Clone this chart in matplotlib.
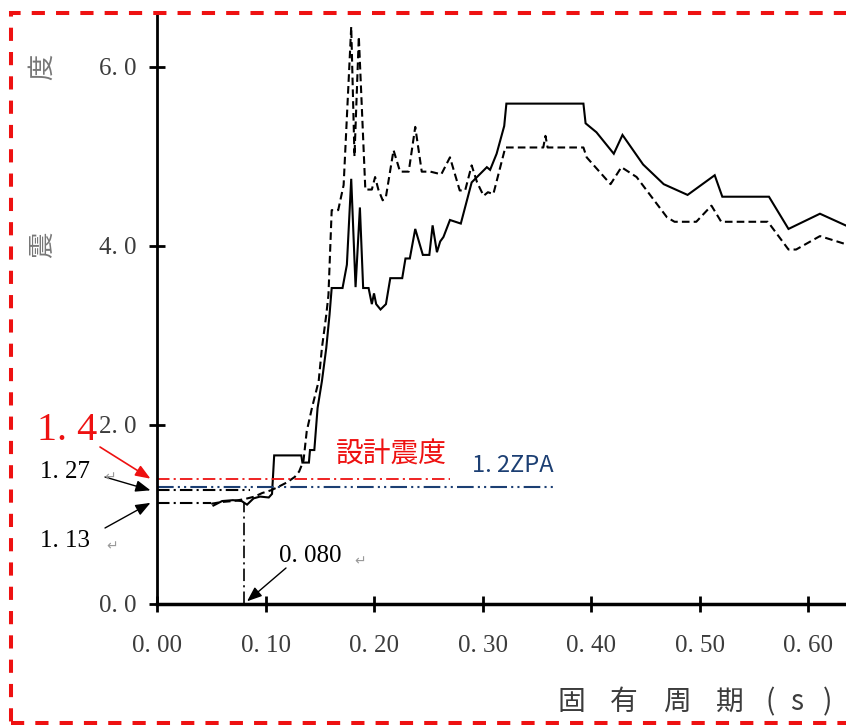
import matplotlib
matplotlib.use("Agg")
import matplotlib.pyplot as plt
from matplotlib.patches import Rectangle

plt.rcParams['lines.scale_dashes'] = False

W, H = 846, 725

# response spectrum, solid curve
period_solid = [0.052, 0.060, 0.070, 0.078, 0.083, 0.089, 0.095, 0.103, 0.106, 0.108,
                0.133, 0.134, 0.140, 0.141, 0.145, 0.148, 0.152, 0.156, 0.159, 0.161,
                0.171, 0.175, 0.179, 0.183, 0.187, 0.190, 0.195, 0.198, 0.200, 0.202,
                0.206, 0.211, 0.215, 0.226, 0.229, 0.233, 0.238, 0.245, 0.251, 0.254,
                0.258, 0.261, 0.264, 0.270, 0.280, 0.290, 0.304, 0.307, 0.313, 0.320,
                0.322, 0.393, 0.395, 0.405, 0.421, 0.429, 0.448, 0.467, 0.489, 0.514,
                0.521, 0.564, 0.582, 0.611, 0.640]
accel_solid = [1.10, 1.15, 1.16, 1.15, 1.11, 1.18, 1.20, 1.19, 1.23, 1.66,
               1.66, 1.58, 1.58, 1.72, 1.72, 2.19, 2.49, 2.86, 3.23, 3.53,
               3.53, 3.79, 4.75, 3.54, 4.43, 3.53, 3.53, 3.35, 3.47, 3.35,
               3.29, 3.35, 3.64, 3.64, 3.86, 3.86, 4.19, 3.90, 3.90, 4.23,
               3.93, 4.05, 4.10, 4.29, 4.25, 4.71, 4.88, 4.85, 5.03, 5.34,
               5.59, 5.59, 5.37, 5.27, 5.03, 5.24, 4.91, 4.69, 4.57, 4.79,
               4.55, 4.55, 4.19, 4.36, 4.20]

# response spectrum, dashed curve
period_dashed = [0.050, 0.060, 0.070, 0.080, 0.090, 0.097, 0.105, 0.112, 0.120, 0.127,
                 0.131, 0.135, 0.138, 0.143, 0.149, 0.152, 0.156, 0.158, 0.161, 0.167,
                 0.172, 0.179, 0.182, 0.186, 0.192, 0.198, 0.201, 0.204, 0.208, 0.211,
                 0.218, 0.224, 0.232, 0.238, 0.244, 0.252, 0.262, 0.270, 0.279, 0.284,
                 0.290, 0.295, 0.301, 0.305, 0.310, 0.321, 0.356, 0.358, 0.360, 0.393,
                 0.396, 0.418, 0.428, 0.442, 0.470, 0.477, 0.497, 0.511, 0.520, 0.563,
                 0.582, 0.589, 0.611, 0.640]
accel_dashed = [1.12, 1.14, 1.15, 1.17, 1.20, 1.24, 1.27, 1.31, 1.36, 1.42,
                1.48, 1.60, 1.93, 2.20, 2.49, 2.86, 3.23, 3.45, 4.40, 4.40,
                4.68, 6.45, 5.00, 6.34, 4.63, 4.63, 4.77, 4.63, 4.51, 4.55,
                5.07, 4.83, 4.83, 5.33, 4.83, 4.83, 4.80, 4.99, 4.62, 4.62,
                4.90, 4.71, 4.56, 4.60, 4.58, 5.10, 5.10, 5.23, 5.10, 5.10,
                4.99, 4.69, 4.88, 4.77, 4.32, 4.27, 4.27, 4.45, 4.27, 4.27,
                3.96, 3.96, 4.11, 4.00]

# reference levels
design_level = 1.4
zpa_level = 1.31
upper_level = 1.27
lower_level = 1.13
cross_period = 0.080

x_ticks = [0.0, 0.1, 0.2, 0.3, 0.4, 0.5, 0.6]
x_tick_labels = ["0. 00", "0. 10", "0. 20", "0. 30", "0. 40", "0. 50", "0. 60"]
y_ticks = [0.0, 2.0, 4.0, 6.0]
y_tick_labels = ["0. 0", "2. 0", "4. 0", "6. 0"]
x_label_chars = ["固", "有", "周", "期", "(", "s", ")"]

SERIF = ["Liberation Serif", "DejaVu Serif"]
CJK = ["Noto Sans CJK JP", "DejaVu Sans"]
GREY = "#3c3c3c"
RED = "#ee1111"
NAVY = "#1c3f73"


def fx(x):
    return x / W


def fy(y):
    return 1 - y / H


fig = plt.figure(figsize=(W / 100, H / 100), dpi=100)
ax = fig.add_axes([fx(157), fy(604), fx(W - 157), (604 - 15) / H])
ax.set_xlim(0, 0.635)
ax.set_ylim(0, 6.58)

for s in ("top", "right"):
    ax.spines[s].set_visible(False)
ax.spines["left"].set_linewidth(2)
ax.spines["bottom"].set_linewidth(2.5)
ax.tick_params(direction="inout", length=12, width=2, colors="black",
               labelcolor=GREY, labelsize=18)
ax.tick_params(axis="x", pad=16)
ax.tick_params(axis="y", pad=9)
ax.set_xticks(x_ticks)
ax.set_xticklabels(x_tick_labels, family=SERIF)
ax.set_yticks(y_ticks)
ax.set_yticklabels(y_tick_labels, family=SERIF)

# spectra
ax.plot(period_solid, accel_solid, color="black", lw=1.5, solid_joinstyle="miter")
ax.plot(period_dashed, accel_dashed, color="black", lw=1.5, ls=(0, (5.5, 3)))

# horizontal reference lines
dd = (0, (9, 3, 1.5, 3))
ax.plot([0, 0.27], [design_level] * 2, color=RED, lw=1.3, ls=dd)
ax.plot([0, 0.368], [zpa_level] * 2, color=NAVY, lw=1.5, ls=(0, (12, 3, 1.5, 3, 1.5, 3)))
ax.plot([0, 0.086], [upper_level] * 2, color="black", lw=1.5, ls=dd)
ax.plot([0, 0.05], [lower_level] * 2, color="black", lw=1.5, ls=dd)
ax.plot([cross_period] * 2, [0, lower_level], color="black", lw=1.2, ls=dd)

ax.text(0.216, 1.67, "設計震度", color=RED, fontsize=20, family=CJK,
        ha="center", va="center")
ax.text(0.29, 1.55, "1. 2ZPA", color=NAVY, fontsize=17, family=CJK,
        ha="left", va="center")

# labels with arrows at the left of the axis
arrow_k = dict(arrowstyle="-|>,head_length=0.9,head_width=0.35", lw=1.0,
               shrinkA=0, shrinkB=0)
ax.annotate("", xy=(-0.006, design_level), xytext=(fx(100), fy(447)),
            textcoords="figure fraction", annotation_clip=False,
            arrowprops=dict(arrowstyle=arrow_k["arrowstyle"], color=RED, lw=1.2,
                            shrinkA=0, shrinkB=0))
ax.annotate("", xy=(-0.006, upper_level), xytext=(fx(105), fy(477)),
            textcoords="figure fraction", annotation_clip=False,
            arrowprops=dict(color="black", **arrow_k))
ax.annotate("", xy=(-0.006, lower_level), xytext=(fx(105), fy(528)),
            textcoords="figure fraction", annotation_clip=False,
            arrowprops=dict(color="black", **arrow_k))
ax.annotate("", xy=(cross_period + 0.003, 0.03), xytext=(fx(286), fy(568)),
            textcoords="figure fraction", annotation_clip=False,
            arrowprops=dict(color="black", **arrow_k))

fig.text(fx(37), fy(430), "1. 4", color=RED, fontsize=29, family=SERIF,
         ha="left", va="center")
fig.text(fx(40), fy(472), "1. 27", color="black", fontsize=18, family=SERIF,
         ha="left", va="center")
fig.text(fx(40), fy(541), "1. 13", color="black", fontsize=18, family=SERIF,
         ha="left", va="center")
fig.text(fx(279), fy(556), "0. 080", color="black", fontsize=18, family=SERIF,
         ha="left", va="center")
for px, py in [(104, 477), (106, 546), (354, 561)]:
    fig.text(fx(px), fy(py), "↵", color="#9a9a9a", fontsize=10, ha="left", va="center")

# axis titles
fig.text(fx(42), fy(67), "度", color="#777777", fontsize=19, family=CJK,
         rotation=90, ha="center", va="center")
fig.text(fx(42), fy(245), "震", color="#777777", fontsize=19, family=CJK,
         rotation=90, ha="center", va="center")
for ch, px in zip(x_label_chars, [571, 624, 677, 730, 770, 797, 828]):
    fig.text(fx(px), fy(702), ch, color=GREY, fontsize=20, family=CJK,
             ha="center", va="center")

# dashed frame
fig.patches.append(Rectangle((fx(10.5), fy(723)), fx(860 - 10.5), (723 - 12.5) / H,
                             transform=fig.transFigure, fill=False, ec=RED, lw=2.9,
                             ls=(0, (9.5, 8)), clip_on=False))

fig.savefig("out.png", dpi=100)
